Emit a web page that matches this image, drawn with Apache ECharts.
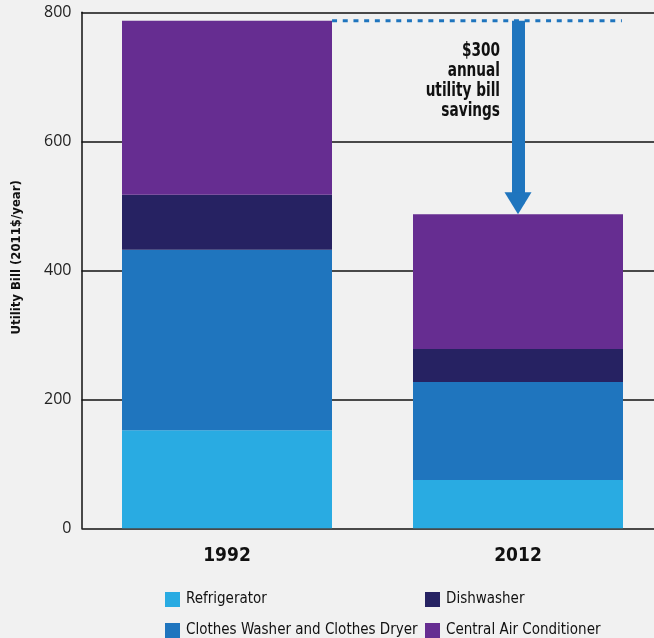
<!DOCTYPE html>
<html>
<head>
<meta charset="utf-8">
<script src="https://cdn.jsdelivr.net/npm/echarts@6/dist/echarts.min.js"></script>
<style>
html,body{margin:0;padding:0;background:#f1f1f1;}
#chart{width:654px;height:638px;}
</style>
</head>
<body>
<div id="chart"></div>
<script>
const categories = ['1992', '2012'];
const refrigerator = [152, 75];
const washerDryer = [280, 152];
const dishwasher = [85, 51];
const centralAC = [270, 209];
const seriesNames = ['Refrigerator', 'Clothes Washer and Clothes Dryer', 'Dishwasher', 'Central Air Conditioner'];
const seriesColors = ['#29abe2', '#1f75be', '#262262', '#662d91'];
const savingsText = ['$300', 'annual', 'utility bill', 'savings'];
const yTicks = { min: 0, max: 800, interval: 200 };

const totals = categories.map((c, i) => refrigerator[i] + washerDryer[i] + dishwasher[i] + centralAC[i]);
const values = [refrigerator, washerDryer, dishwasher, centralAC];

const NARROW = '"Liberation Sans Narrow", "DejaVu Sans Condensed", sans-serif';

// layout (pixels)
const GRID = { left: 81.5, width: 582, top: 12.3, bottom: 109.7 };
const plotHeight = 638 - GRID.top - GRID.bottom;
const arrowHead = [27, 22];
// triangle symbol is centred on the end point: lift end so the tip lands on the 2012 total
const arrowEnd = totals[1] + (arrowHead[1] / 2) * (yTicks.max - yTicks.min) / plotHeight;

const chart = echarts.init(document.getElementById('chart'));

const barSeries = seriesNames.map((name, k) => ({
  name: name,
  type: 'bar',
  stack: 'total',
  barWidth: 210,
  itemStyle: { color: seriesColors[k] },
  data: values[k],
  z: 3
}));

const legendCommon = {
  orient: 'vertical', top: 592, height: 60, padding: 0,
  itemWidth: 15, itemHeight: 15, itemGap: 16,
  icon: 'rect',
  textStyle: { fontFamily: NARROW, fontSize: 15, lineHeight: 15, color: '#111', padding: [0, 0, 0, 1] }
};

chart.setOption({
  backgroundColor: '#f1f1f1',
  animation: false,
  grid: Object.assign({ containLabel: false, outerBoundsMode: 'none' }, GRID),
  xAxis: [
    {
      type: 'category',
      data: categories,
      axisLine: { show: false },
      axisTick: { show: false },
      axisLabel: { fontFamily: NARROW, fontWeight: 'bold', fontSize: 19, color: '#111', margin: 18 }
    },
    {
      type: 'value', min: 0, max: 2, show: false
    }
  ],
  yAxis: {
    type: 'value',
    min: yTicks.min, max: yTicks.max, interval: yTicks.interval,
    name: 'Utility Bill (2011$/year)',
    nameLocation: 'middle',
    nameGap: 58,
    nameTextStyle: { fontFamily: NARROW, fontWeight: 'bold', fontSize: 13, color: '#111', padding: [0, 0, 0, 26] },
    axisLine: { show: true, lineStyle: { color: '#111', width: 1.5 } },
    axisTick: { show: false },
    axisLabel: { fontFamily: '"Open Sans", sans-serif', fontSize: 16, color: '#222', margin: 10 },
    splitLine: { show: true, lineStyle: { color: '#111', width: 1.5 } }
  },
  legend: [
    Object.assign({ data: [seriesNames[0], seriesNames[1]], left: 165 }, legendCommon),
    Object.assign({ data: [seriesNames[2], seriesNames[3]], left: 425 }, legendCommon)
  ],
  series: barSeries.concat([
    {
      name: 'savingsLine',
      type: 'line',
      xAxisIndex: 1,
      yAxisIndex: 0,
      showSymbol: false,
      silent: true,
      data: [[0.861, totals[0]], [1.857, totals[0]]],
      lineStyle: { color: '#1f75be', width: 3, type: [5, 5.7] },
      z: 5,
      markLine: {
        silent: true,
        symbol: ['none', 'triangle'],
        symbolSize: arrowHead,
        lineStyle: { color: '#1f75be', width: 13, type: 'solid' },
        label: { show: false },
        data: [[{ coord: [1.5, totals[0]] }, { coord: [1.5, arrowEnd] }]]
      }
    }
  ]),
  graphic: [
    {
      type: 'text',
      x: 500,
      y: 41,
      scaleX: 0.8,
      style: {
        text: savingsText.join('\n'),
        align: 'right',
        verticalAlign: 'top',
        fontFamily: NARROW,
        fontWeight: 'bold',
        fontSize: 19,
        lineHeight: 20,
        fill: '#111'
      }
    }
  ]
});
</script>
</body>
</html>
